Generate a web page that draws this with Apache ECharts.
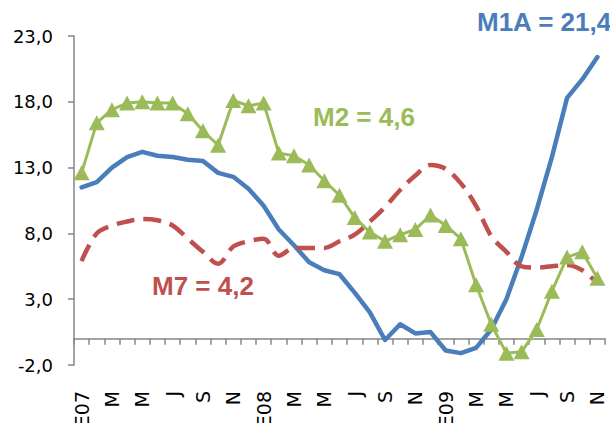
<!DOCTYPE html>
<html>
<head>
<meta charset="utf-8">
<script src="https://cdn.jsdelivr.net/npm/echarts@6/dist/echarts.min.js"></script>
<style>
  html, body { margin: 0; padding: 0; background: #fff; }
  #chart { width: 610px; height: 423px; }
</style>
</head>
<body>
<div id="chart"></div>
<script>
// Monthly categories, Jan 2007 - Nov 2009 (Spanish month initials)
const months = [
  'E07','F','M','A','M','J','J','A','S','O','N','D',
  'E08','F','M','A','M','J','J','A','S','O','N','D',
  'E09','F','M','A','M','J','J','A','S','O','N'
];

// Annual growth rates (%) of the monetary aggregates
const m1a = [11.5, 11.9, 13.0, 13.8, 14.2, 13.9, 13.8, 13.6, 13.5, 12.6, 12.3, 11.4,
             10.1, 8.3, 7.1, 5.8, 5.2, 4.9, 3.5, 2.0, -0.1, 1.1, 0.4, 0.5,
             -0.9, -1.1, -0.7, 0.7, 3.0, 6.2, 9.8, 13.8, 18.3, 19.7, 21.4];
const m2 = [12.6, 16.4, 17.4, 17.9, 18.0, 17.9, 17.9, 17.1, 15.8, 14.7, 18.1, 17.7,
            17.9, 14.1, 13.9, 13.2, 12.0, 10.9, 9.2, 8.1, 7.4, 7.9, 8.3, 9.4,
            8.6, 7.6, 4.1, 1.1, -1.1, -1.0, 0.7, 3.6, 6.2, 6.6, 4.6];
const m7 = [5.9, 8.0, 8.6, 8.9, 9.1, 9.0, 8.6, 7.6, 6.6, 5.7, 7.0, 7.4,
            7.6, 6.3, 6.9, 6.9, 6.9, 7.4, 7.9, 8.9, 10.0, 11.3, 12.4, 13.2,
            12.9, 11.8, 10.1, 7.8, 6.6, 5.5, 5.4, 5.5, 5.6, 5.2, 4.2];

// Value-axis tick positions
const yTicks = [-2, 3, 8, 13, 18, 23];

const BLUE = '#4a7ebb', GREEN = '#9bbb59', RED = '#c0504d', AXIS = '#868686';

const fmt = v => v.toFixed(1).replace('.', ',');
const last = arr => arr[arr.length - 1];

const chart = echarts.init(document.getElementById('chart'), null, { renderer: 'svg' });

const labelFont = { fontFamily: 'Liberation Sans, Arial, sans-serif', fontWeight: 'bold', fontSize: 26 };

chart.setOption({
  animation: false,
  backgroundColor: '#fff',
  grid: { left: 74, right: 5, top: 36, bottom: 58, containLabel: false, outerBoundsMode: 'none' },
  xAxis: [
    {
      // axis line and ticks drawn across the zero level
      type: 'category',
      data: months,
      boundaryGap: true,
      axisLine: { onZero: true, lineStyle: { color: AXIS, width: 1.5 } },
      axisTick: { show: true, interval: 0, length: 6, lineStyle: { color: AXIS, width: 1.5 } },
      axisLabel: { show: false },
      splitLine: { show: false }
    },
    {
      // month labels sit below the plot area
      type: 'category',
      data: months,
      position: 'bottom',
      boundaryGap: true,
      axisLine: { show: false, onZero: false },
      axisTick: { show: false },
      axisLabel: {
        interval: 1,
        rotate: 90,
        margin: 26,
        color: '#000',
        fontFamily: 'DejaVu Sans, sans-serif',
        fontSize: 19
      },
      splitLine: { show: false }
    }
  ],
  yAxis: {
    type: 'value',
    min: yTicks[0],
    max: yTicks[yTicks.length - 1],
    axisLine: { show: true, lineStyle: { color: AXIS, width: 1.5 } },
    axisTick: { show: true, length: 6, customValues: yTicks, lineStyle: { color: AXIS, width: 1.5 } },
    axisLabel: {
      customValues: yTicks,
      formatter: v => fmt(v),
      margin: 21,
      color: '#000',
      fontFamily: 'DejaVu Sans, sans-serif',
      fontSize: 18
    },
    splitLine: { show: false }
  },
  series: [
    {
      name: 'M1A',
      type: 'line',
      data: m1a,
      symbol: 'none',
      lineStyle: { color: BLUE, width: 4.5, join: 'round', cap: 'round' },
      z: 2
    },
    {
      name: 'M7',
      type: 'line',
      data: m7,
      symbol: 'none',
      smooth: 0.35,
      lineStyle: { color: RED, width: 4.5, type: [18, 9], dashOffset: 0 },
      z: 3
    },
    {
      name: 'M2',
      type: 'line',
      data: m2,
      symbol: 'triangle',
      symbolSize: [16, 15],
      showAllSymbol: true,
      itemStyle: { color: GREEN, borderWidth: 0 },
      lineStyle: { color: GREEN, width: 3 },
      z: 4
    }
  ],
  graphic: [
    { type: 'text', left: 477, top: 9,
      style: Object.assign({ text: 'M1A = ' + fmt(last(m1a)), fill: BLUE }, labelFont) },
    { type: 'text', left: 313, top: 104,
      style: Object.assign({ text: 'M2 = ' + fmt(last(m2)), fill: GREEN }, labelFont) },
    { type: 'text', left: 152, top: 273,
      style: Object.assign({ text: 'M7 = ' + fmt(last(m7)), fill: RED }, labelFont) }
  ]
});
</script>
</body>
</html>
